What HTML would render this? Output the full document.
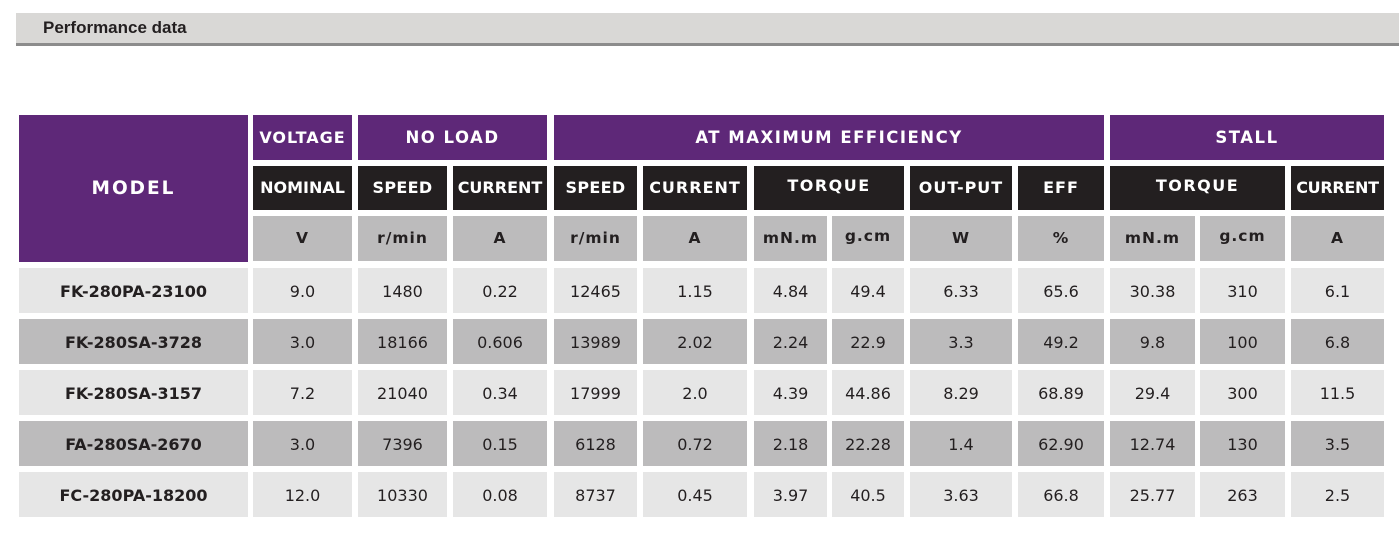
<!DOCTYPE html>
<html><head><meta charset="utf-8"><style>
body{margin:0;width:1399px;height:533px;background:#fff;position:relative;overflow:hidden;font-family:"DejaVu Sans","Liberation Sans",sans-serif}
.b{position:absolute;text-align:center;white-space:nowrap;overflow:hidden}
.p{background:#5e2878;color:#fff;font-weight:bold;font-size:16.5px;letter-spacing:1.5px}
.k{background:#231f20;color:#fff;font-weight:bold;font-size:16px;letter-spacing:0.3px}
.u{background:#bcbbbc;color:#231f20;font-weight:bold;font-size:15.5px;letter-spacing:1px}
.l{background:#e6e6e6;color:#231f20;font-size:16px}
.d{background:#bcbbbc;color:#231f20;font-size:16px}
.m{font-weight:bold;font-size:16px}
.l,.d{line-height:48px!important}
</style></head><body>
<div style="position:absolute;left:16px;top:13px;width:1383px;height:30px;background:#d9d8d6"></div>
<div style="position:absolute;left:16px;top:43px;width:1383px;height:3px;background:#8c8c8c"></div>
<div style="position:absolute;left:43px;top:18px;font-family:'Liberation Sans',sans-serif;font-weight:bold;font-size:17px;color:#231f20">Performance data</div>

<div class="b p" style="left:19px;top:115px;width:229px;height:147px;line-height:147px;font-size:18.5px;letter-spacing:2px">MODEL</div>
<div class="b p" style="left:253px;top:115px;width:99px;height:45px;line-height:45px;letter-spacing:1px;font-size:16px">VOLTAGE</div>
<div class="b p" style="left:358px;top:115px;width:189px;height:45px;line-height:45px">NO LOAD</div>
<div class="b p" style="left:554px;top:115px;width:550px;height:45px;line-height:45px">AT MAXIMUM EFFICIENCY</div>
<div class="b p" style="left:1110px;top:115px;width:274px;height:45px;line-height:45px">STALL</div>

<div class="b k" style="left:253px;top:166px;width:99px;height:44px;line-height:44px;letter-spacing:0">NOMINAL</div>
<div class="b k" style="left:358px;top:166px;width:89px;height:44px;line-height:44px">SPEED</div>
<div class="b k" style="left:453px;top:166px;width:94px;height:44px;line-height:44px;letter-spacing:0">CURRENT</div>
<div class="b k" style="left:554px;top:166px;width:83px;height:44px;line-height:44px">SPEED</div>
<div class="b k" style="left:643px;top:166px;width:104px;height:44px;line-height:44px;letter-spacing:1px">CURRENT</div>
<div class="b k" style="left:754px;top:166px;width:150px;height:44px;line-height:40px;letter-spacing:1.5px">TORQUE</div>
<div class="b k" style="left:910px;top:166px;width:102px;height:44px;line-height:44px;letter-spacing:1px">OUT-PUT</div>
<div class="b k" style="left:1018px;top:166px;width:86px;height:44px;line-height:44px;letter-spacing:1px">EFF</div>
<div class="b k" style="left:1110px;top:166px;width:175px;height:44px;line-height:40px;letter-spacing:1.5px">TORQUE</div>
<div class="b k" style="left:1291px;top:166px;width:93px;height:44px;line-height:44px;letter-spacing:-0.3px">CURRENT</div>

<div class="b u" style="left:253px;top:216px;width:99px;height:45px;line-height:45px">V</div>
<div class="b u" style="left:358px;top:216px;width:89px;height:45px;line-height:45px">r/min</div>
<div class="b u" style="left:453px;top:216px;width:94px;height:45px;line-height:45px">A</div>
<div class="b u" style="left:554px;top:216px;width:83px;height:45px;line-height:45px">r/min</div>
<div class="b u" style="left:643px;top:216px;width:104px;height:45px;line-height:45px">A</div>
<div class="b u" style="left:754px;top:216px;width:73px;height:45px;line-height:45px">mN.m</div>
<div class="b u" style="left:832px;top:216px;width:72px;height:45px;line-height:40px">g.cm</div>
<div class="b u" style="left:910px;top:216px;width:102px;height:45px;line-height:45px">W</div>
<div class="b u" style="left:1018px;top:216px;width:86px;height:45px;line-height:45px">%</div>
<div class="b u" style="left:1110px;top:216px;width:85px;height:45px;line-height:45px">mN.m</div>
<div class="b u" style="left:1200px;top:216px;width:85px;height:45px;line-height:40px">g.cm</div>
<div class="b u" style="left:1291px;top:216px;width:93px;height:45px;line-height:45px">A</div>

<div class="b l m" style="left:19px;top:268px;width:229px;height:45px">FK-280PA-23100</div>
<div class="b l" style="left:253px;top:268px;width:99px;height:45px">9.0</div>
<div class="b l" style="left:358px;top:268px;width:89px;height:45px">1480</div>
<div class="b l" style="left:453px;top:268px;width:94px;height:45px">0.22</div>
<div class="b l" style="left:554px;top:268px;width:83px;height:45px">12465</div>
<div class="b l" style="left:643px;top:268px;width:104px;height:45px">1.15</div>
<div class="b l" style="left:754px;top:268px;width:73px;height:45px">4.84</div>
<div class="b l" style="left:832px;top:268px;width:72px;height:45px">49.4</div>
<div class="b l" style="left:910px;top:268px;width:102px;height:45px">6.33</div>
<div class="b l" style="left:1018px;top:268px;width:86px;height:45px">65.6</div>
<div class="b l" style="left:1110px;top:268px;width:85px;height:45px">30.38</div>
<div class="b l" style="left:1200px;top:268px;width:85px;height:45px">310</div>
<div class="b l" style="left:1291px;top:268px;width:93px;height:45px">6.1</div>

<div class="b d m" style="left:19px;top:319px;width:229px;height:45px">FK-280SA-3728</div>
<div class="b d" style="left:253px;top:319px;width:99px;height:45px">3.0</div>
<div class="b d" style="left:358px;top:319px;width:89px;height:45px">18166</div>
<div class="b d" style="left:453px;top:319px;width:94px;height:45px">0.606</div>
<div class="b d" style="left:554px;top:319px;width:83px;height:45px">13989</div>
<div class="b d" style="left:643px;top:319px;width:104px;height:45px">2.02</div>
<div class="b d" style="left:754px;top:319px;width:73px;height:45px">2.24</div>
<div class="b d" style="left:832px;top:319px;width:72px;height:45px">22.9</div>
<div class="b d" style="left:910px;top:319px;width:102px;height:45px">3.3</div>
<div class="b d" style="left:1018px;top:319px;width:86px;height:45px">49.2</div>
<div class="b d" style="left:1110px;top:319px;width:85px;height:45px">9.8</div>
<div class="b d" style="left:1200px;top:319px;width:85px;height:45px">100</div>
<div class="b d" style="left:1291px;top:319px;width:93px;height:45px">6.8</div>

<div class="b l m" style="left:19px;top:370px;width:229px;height:45px">FK-280SA-3157</div>
<div class="b l" style="left:253px;top:370px;width:99px;height:45px">7.2</div>
<div class="b l" style="left:358px;top:370px;width:89px;height:45px">21040</div>
<div class="b l" style="left:453px;top:370px;width:94px;height:45px">0.34</div>
<div class="b l" style="left:554px;top:370px;width:83px;height:45px">17999</div>
<div class="b l" style="left:643px;top:370px;width:104px;height:45px">2.0</div>
<div class="b l" style="left:754px;top:370px;width:73px;height:45px">4.39</div>
<div class="b l" style="left:832px;top:370px;width:72px;height:45px">44.86</div>
<div class="b l" style="left:910px;top:370px;width:102px;height:45px">8.29</div>
<div class="b l" style="left:1018px;top:370px;width:86px;height:45px">68.89</div>
<div class="b l" style="left:1110px;top:370px;width:85px;height:45px">29.4</div>
<div class="b l" style="left:1200px;top:370px;width:85px;height:45px">300</div>
<div class="b l" style="left:1291px;top:370px;width:93px;height:45px">11.5</div>

<div class="b d m" style="left:19px;top:421px;width:229px;height:45px">FA-280SA-2670</div>
<div class="b d" style="left:253px;top:421px;width:99px;height:45px">3.0</div>
<div class="b d" style="left:358px;top:421px;width:89px;height:45px">7396</div>
<div class="b d" style="left:453px;top:421px;width:94px;height:45px">0.15</div>
<div class="b d" style="left:554px;top:421px;width:83px;height:45px">6128</div>
<div class="b d" style="left:643px;top:421px;width:104px;height:45px">0.72</div>
<div class="b d" style="left:754px;top:421px;width:73px;height:45px">2.18</div>
<div class="b d" style="left:832px;top:421px;width:72px;height:45px">22.28</div>
<div class="b d" style="left:910px;top:421px;width:102px;height:45px">1.4</div>
<div class="b d" style="left:1018px;top:421px;width:86px;height:45px">62.90</div>
<div class="b d" style="left:1110px;top:421px;width:85px;height:45px">12.74</div>
<div class="b d" style="left:1200px;top:421px;width:85px;height:45px">130</div>
<div class="b d" style="left:1291px;top:421px;width:93px;height:45px">3.5</div>

<div class="b l m" style="left:19px;top:472px;width:229px;height:45px">FC-280PA-18200</div>
<div class="b l" style="left:253px;top:472px;width:99px;height:45px">12.0</div>
<div class="b l" style="left:358px;top:472px;width:89px;height:45px">10330</div>
<div class="b l" style="left:453px;top:472px;width:94px;height:45px">0.08</div>
<div class="b l" style="left:554px;top:472px;width:83px;height:45px">8737</div>
<div class="b l" style="left:643px;top:472px;width:104px;height:45px">0.45</div>
<div class="b l" style="left:754px;top:472px;width:73px;height:45px">3.97</div>
<div class="b l" style="left:832px;top:472px;width:72px;height:45px">40.5</div>
<div class="b l" style="left:910px;top:472px;width:102px;height:45px">3.63</div>
<div class="b l" style="left:1018px;top:472px;width:86px;height:45px">66.8</div>
<div class="b l" style="left:1110px;top:472px;width:85px;height:45px">25.77</div>
<div class="b l" style="left:1200px;top:472px;width:85px;height:45px">263</div>
<div class="b l" style="left:1291px;top:472px;width:93px;height:45px">2.5</div>
</body></html>
